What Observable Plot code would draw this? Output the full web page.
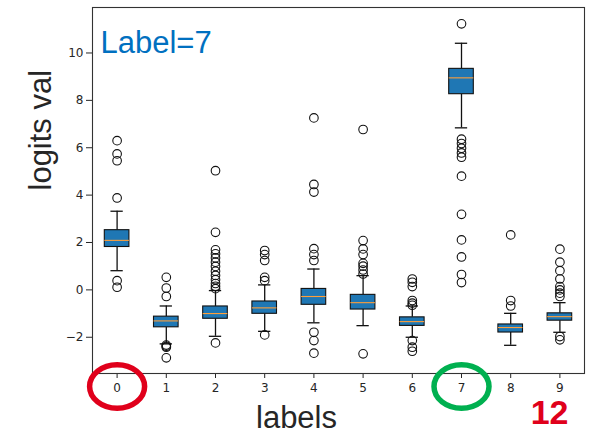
<!DOCTYPE html>
<html>
<head>
<meta charset="utf-8">
<script src="https://cdn.jsdelivr.net/npm/d3@7"></script>
<script src="https://cdn.jsdelivr.net/npm/@observablehq/plot@0.6"></script>
<style>
  html, body { margin: 0; padding: 0; background: #fff; }
  svg { display: block; }
</style>
</head>
<body>
<div id="chart"></div>
<script>
// ---- data ----
const labels   = [0, 1, 2, 3, 4, 5, 6, 7, 8, 9];
const q1       = [1.81, -1.58, -1.22, -1.01, -0.63, -0.83, -1.52, 8.26, -1.80, -1.30];
const medians  = [2.09, -1.31, -1.00, -0.76, -0.28, -0.54, -1.34, 8.95, -1.59, -1.13];
const q3       = [2.52, -1.13, -0.70, -0.49, 0.04, -0.21, -1.16, 9.33, -1.46, -0.99];
const whiskLo  = [0.81, -2.28, -1.96, -1.75, -1.39, -1.51, -2.00, 6.84, -2.34, -1.79];
const whiskHi  = [3.32, -0.68, -0.03, 0.21, 0.88, 0.60, -0.68, 10.41, -0.99, -0.54];
const outliers = [
  [6.30, 5.74, 5.45, 3.88, 0.39, 0.11],
  [0.53, 0.08, -0.28, -2.33, -2.38, -2.42, -2.87],
  [5.03, 2.43, 1.69, 1.52, 1.35, 1.17, 0.99, 0.79, 0.61, 0.43, 0.27, 0.15, 0.05, -2.24],
  [1.66, 1.49, 1.24, 0.53, 0.39, -1.90],
  [7.26, 4.45, 4.13, 1.74, 1.49, 1.24, -1.79, -2.14, -2.67],
  [6.77, 2.08, 1.73, 1.49, 1.12, 1.00, 0.84, 0.67, -2.70],
  [0.46, 0.32, 0.14, -0.45, -0.56, -0.65, -2.14, -2.42, -2.59],
  [11.23, 6.36, 6.18, 5.98, 5.78, 5.60, 4.80, 3.19, 2.11, 1.39, 0.65, 0.31],
  [2.32, -0.45, -0.68],
  [1.72, 1.17, 0.81, 0.46, 0.14, 0.00, -0.14, -0.28, -1.97, -2.11]
];
const yTicks = [-2, 0, 2, 4, 6, 8, 10];
const highlighted = [0, 7];
const titleText = "Label=7";
const badgeText = "12";

// ---- tables built from the arrays ----
const boxes = labels.map((l, i) => ({
  label: l, q1: q1[i], med: medians[i], q3: q3[i], lo: whiskLo[i], hi: whiskHi[i]
}));
const fliers = labels.flatMap((l, i) => outliers[i].map(v => ({label: l, v})));
const marks = highlighted.map((l, i) => ({label: l, color: i === 0 ? "#e0001b" : "#00b050"}));

const W = 0.25;   // half box width
const C = 0.125;  // half cap width

// ellipse symbol
const ellipse = {
  draw(ctx) {
    const rx = 27.5, ry = 21.8, k = 0.5523;
    ctx.moveTo(rx, 0);
    ctx.bezierCurveTo(rx, k * ry, k * rx, ry, 0, ry);
    ctx.bezierCurveTo(-k * rx, ry, -rx, k * ry, -rx, 0);
    ctx.bezierCurveTo(-rx, -k * ry, -k * rx, -ry, 0, -ry);
    ctx.bezierCurveTo(k * rx, -ry, rx, -k * ry, rx, 0);
    ctx.closePath();
  }
};

const font = "DejaVu Sans, sans-serif";
const big = "Liberation Sans, Arial, sans-serif";

const chart = Plot.plot({
  width: 597,
  height: 433,
  marginLeft: 92,
  marginRight: 13,
  marginTop: 7,
  marginBottom: 60,
  style: {fontFamily: font, fontSize: "12px", color: "#262626", background: "#fff", overflow: "visible"},
  x: {type: "linear", domain: [-0.5, 9.5], ticks: labels, tickFormat: d => String(d), tickSize: 5, tickPadding: 5, label: null},
  y: {domain: [-3.53, 11.92], ticks: yTicks, tickSize: 6, tickPadding: 3, label: null},
  marks: [
    Plot.frame({stroke: "#333", strokeWidth: 1.1}),
    // whiskers
    Plot.ruleX(boxes, {x: "label", y1: "lo", y2: "q1", stroke: "#111", strokeWidth: 1.3}),
    Plot.ruleX(boxes, {x: "label", y1: "q3", y2: "hi", stroke: "#111", strokeWidth: 1.3}),
    Plot.ruleY(boxes, {y: "lo", x1: d => d.label - C, x2: d => d.label + C, stroke: "#111", strokeWidth: 1.3}),
    Plot.ruleY(boxes, {y: "hi", x1: d => d.label - C, x2: d => d.label + C, stroke: "#111", strokeWidth: 1.3}),
    // boxes
    Plot.rect(boxes, {x1: d => d.label - W, x2: d => d.label + W, y1: "q1", y2: "q3", fill: "#1f77b4", stroke: "#111", strokeWidth: 1.1}),
    // medians
    Plot.ruleY(boxes, {y: "med", x1: d => d.label - W, x2: d => d.label + W, stroke: "#ff9f3a", strokeWidth: 1.1}),
    // outliers
    Plot.dot(fliers, {x: "label", y: "v", r: 4.3, stroke: "#111", strokeWidth: 1.1, fill: "none"}),
    // annotations
    Plot.text([titleText], {text: d => d, frameAnchor: "top-left", textAnchor: "start", lineAnchor: "top", dx: 8, dy: 23, fontSize: 31, fontFamily: big, fill: "#0070c0"}),
    Plot.text(["logits val"], {text: d => d, frameAnchor: "left", rotate: -90, dx: -51, dy: 0, fontSize: 31, fontFamily: big, fill: "#262626"}),
    Plot.text(["labels"], {text: d => d, frameAnchor: "bottom", lineAnchor: "bottom", dx: -42, dy: 54, fontSize: 31, fontFamily: big, fill: "#262626"}),
    Plot.text([badgeText], {text: d => d, frameAnchor: "bottom-right", textAnchor: "end", lineAnchor: "bottom", dx: -16, dy: 50, fontSize: 34, fontWeight: "bold", fontFamily: big, fill: "#e0001b"}),
    Plot.dot(marks, {x: "label", frameAnchor: "bottom", dy: 13, symbol: ellipse, r: 1, stroke: "color", strokeWidth: 5.5, fill: "none"})
  ]
});
document.getElementById("chart").appendChild(chart);
</script>
</body>
</html>
